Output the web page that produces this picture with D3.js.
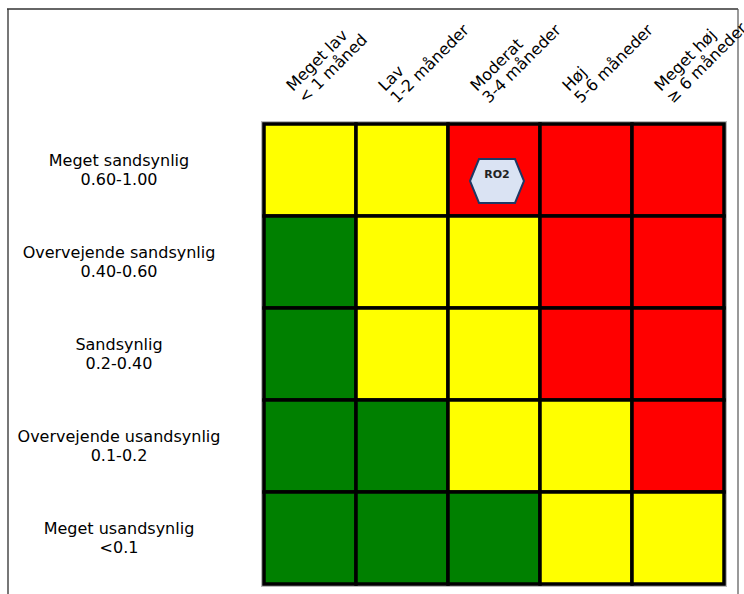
<!DOCTYPE html>
<html>
<head>
<meta charset="utf-8">
<script src="https://cdn.jsdelivr.net/npm/d3@7"></script>
<style>
  html, body { margin: 0; padding: 0; background: #fff; }
  svg { display: block; font-family: "DejaVu Sans", sans-serif; }
</style>
</head>
<body>
<svg id="chart" width="744" height="594"></svg>
<script>
// Consequence columns (two-line labels)
const consequences = ["Meget lav", "Lav", "Moderat", "Høj", "Meget høj"];
const consequenceRanges = ["< 1 måned", "1-2 måneder", "3-4 måneder", "5-6 måneder", "≥ 6 måneder"];

// Probability rows (two-line labels)
const probabilities = ["Meget sandsynlig", "Overvejende sandsynlig", "Sandsynlig", "Overvejende usandsynlig", "Meget usandsynlig"];
const probabilityRanges = ["0.60-1.00", "0.40-0.60", "0.2-0.40", "0.1-0.2", "<0.1"];

// Risk level per cell, rows top to bottom, columns left to right
const riskLevels = [
  ["medium", "medium", "high",   "high",   "high"],
  ["low",    "medium", "medium", "high",   "high"],
  ["low",    "medium", "medium", "high",   "high"],
  ["low",    "low",    "medium", "medium", "high"],
  ["low",    "low",    "low",    "medium", "medium"]
];
const levelNames = ["low", "medium", "high"];
const levelColors = ["#008000", "#ffff00", "#ff0000"];

// Placed risks
const riskLabels = ["RO2"];
const riskConsequence = ["Moderat"];
const riskProbability = ["Meget sandsynlig"];

const svg = d3.select("#chart");

// Outer frame
const frame = svg.append("g").attr("fill", "none");
frame.append("line").attr("x1", 8).attr("x2", 8).attr("y1", 9).attr("y2", 594)
  .attr("stroke", "#777").attr("stroke-width", 2);
frame.append("line").attr("x1", 7).attr("x2", 738).attr("y1", 9).attr("y2", 9)
  .attr("stroke", "#333").attr("stroke-width", 1.5);
frame.append("line").attr("x1", 738).attr("x2", 738).attr("y1", 9).attr("y2", 594)
  .attr("stroke", "#555").attr("stroke-width", 1.2);

const gridLeft = 264, gridTop = 124, gridSize = 460;

const x = d3.scaleBand().domain(consequences).range([gridLeft, gridLeft + gridSize]).padding(0);
const y = d3.scaleBand().domain(probabilities).range([gridTop, gridTop + gridSize]).padding(0);
const color = d3.scaleOrdinal().domain(levelNames).range(levelColors);

const cells = [];
probabilities.forEach((p, i) => consequences.forEach((c, j) => cells.push({ p, c, level: riskLevels[i][j] })));

// Soft shadow around the matrix
svg.append("rect")
  .attr("x", gridLeft - 1).attr("y", gridTop - 1)
  .attr("width", gridSize + 2).attr("height", gridSize + 2)
  .attr("fill", "none").attr("stroke", "#bbb").attr("stroke-width", 4);

svg.append("g").selectAll("rect").data(cells).join("rect")
  .attr("x", d => x(d.c))
  .attr("y", d => y(d.p))
  .attr("width", x.bandwidth())
  .attr("height", y.bandwidth())
  .attr("fill", d => color(d.level))
  .attr("stroke", "#000")
  .attr("stroke-width", 3.5);

// Row labels
const rowLabels = svg.append("g").attr("text-anchor", "middle")
  .attr("font-size", 16).attr("fill", "#000");
probabilities.forEach((p, i) => {
  const cy = y(p) + y.bandwidth() / 2;
  const t = rowLabels.append("text").attr("x", 119).attr("y", cy - 4.5);
  t.append("tspan").attr("x", 119).text(p);
  t.append("tspan").attr("x", 119).attr("dy", 19).text(probabilityRanges[i]);
});

// Column labels, rotated 45°, lines left-aligned
const colLabels = svg.append("g").attr("text-anchor", "start")
  .attr("font-size", 16).attr("fill", "#000");
consequences.forEach((c, j) => {
  const ax = x(c) + 41;
  const g = colLabels.append("g").attr("transform", `translate(${ax},104) rotate(-45)`);
  g.append("text").attr("x", 0).attr("y", -17).text(c);
  g.append("text").attr("x", 0).attr("y", 0).text(consequenceRanges[j]);
});

// Risk markers (hexagons)
const hw = 27, hh = 22, hi = 18;
const hexPath = `M${-hw},0 L${-hi},${-hh} L${hi},${-hh} L${hw},0 L${hi},${hh} L${-hi},${hh} Z`;
const markers = svg.append("g").selectAll("g").data(riskLabels.map((r, k) => ({
  label: r, c: riskConsequence[k], p: riskProbability[k]
}))).join("g")
  .attr("transform", d => `translate(${x(d.c) + x.bandwidth() / 2 + 3},${y(d.p) + y.bandwidth() / 2 + 11})`);
markers.append("path").attr("d", hexPath)
  .attr("fill", "#dae3f3").attr("stroke", "#1f3864").attr("stroke-width", 2);
markers.append("text").attr("text-anchor", "middle").attr("y", -3)
  .attr("font-size", 11).attr("font-weight", "bold").attr("fill", "#222")
  .text(d => d.label);
</script>
</body>
</html>
